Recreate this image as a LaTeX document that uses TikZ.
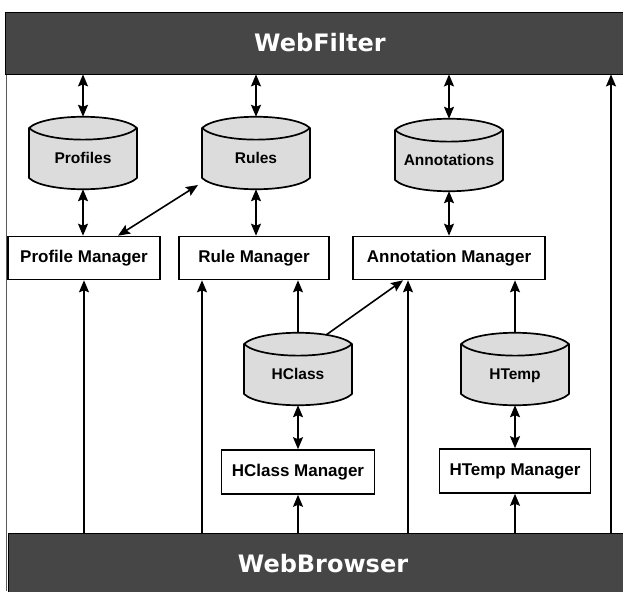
\documentclass[tikz,border=0pt]{standalone}
\usepackage{fontspec}
\setmainfont{Liberation Sans}
\newfontfamily\barfont{DejaVu Sans}
\usetikzlibrary{arrows.meta,calc,backgrounds}

\definecolor{barfill}{HTML}{464646}
\definecolor{dbfill}{HTML}{DCDCDC}

% database drum: lens-shaped lid, straight sides, rounded base
\newcommand\dbdraw[1]{%
  \begin{scope}[shift={(#1.center)}]
    \filldraw[dbline] (-54,-25) .. controls (-38,-40) and (38,-40) .. (54,-25)
      -- (54,25) .. controls (38,40) and (-38,40) .. (-54,25) -- cycle;
    \draw[dbline] (-54,-25) .. controls (-38,-9.5) and (38,-9.5) .. (54,-25);
  \end{scope}}

\begin{document}
\begin{tikzpicture}[x=1pt,y=-1pt,
  bar/.style={draw=black, line width=0.8pt, fill=barfill, text=white,
    font=\barfont\bfseries\fontsize{24}{28}\selectfont,
    minimum width=630pt, minimum height=62pt, inner sep=0pt},
  mgr/.style={draw=black, line width=1.6pt, fill=white,
    font=\bfseries\fontsize{17}{20}\selectfont,
    minimum height=43pt, inner sep=0pt},
  db/.style={inner sep=0pt, minimum width=108pt, text height=46.5pt,
    text depth=25.5pt, font=\bfseries\fontsize{15.5}{18}\selectfont},
  dbline/.style={draw=black, line width=1.7pt, fill=dbfill, line join=round},
  link/.style={line width=1.6pt, -{Stealth[length=12pt,width=10pt,inset=2pt]}},
  both/.style={line width=1.6pt, {Stealth[length=12pt,width=10pt,inset=2pt]}-{Stealth[length=12pt,width=10pt,inset=2pt]}}]

\useasboundingbox (0,0) rectangle (623,591);
\clip (0,0) rectangle (623,591);

% outer frame line on the left
\draw[gray!70!black, line width=0.9pt] (6,74) -- (6,591);

% top and bottom layers
\node[bar] (wf) at (320,43) {WebFilter};
\node[bar] (wb) at (323,564) {WebBrowser};

% data stores
\node[db] (prof)   at (83,153)  {Profiles};
\node[db] (rules)  at (256,153) {Rules};
\node[db] (annot)  at (449,155) {Annotations};
\node[db] (hclass) at (298,369) {HClass};
\node[db] (htemp)  at (515,369) {HTemp};

\begin{scope}[on background layer]
  \fill[white] (0,0) rectangle (623,591);
  \dbdraw{prof}
  \dbdraw{rules}
  \dbdraw{annot}
  \dbdraw{hclass}
  \dbdraw{htemp}
\end{scope}

% managers
\node[mgr, minimum width=152pt] (pm)  at (84,258)  {Profile Manager};
\node[mgr, minimum width=150pt] (rm)  at (254,258) {Rule Manager};
\node[mgr, minimum width=192pt] (am)  at (449,258) {Annotation Manager};
\node[mgr, minimum width=153pt, minimum height=44pt] (hcm) at (298,472) {HClass Manager};
\node[mgr, minimum width=151pt, minimum height=44pt] (htm) at (515,471) {HTemp Manager};

% column positions of the long browser links
\coordinate (colR) at (202,0);
\coordinate (colA) at (408,0);
\coordinate (colF) at (611,0);
\coordinate (pmTop)  at ($(pm.north)+(34,0)$);
\coordinate (ruBase) at ($(rules.center)+(-58,32)$);
\coordinate (hcTop)  at ($(hclass.center)+(28,-34)$);
\coordinate (amIn)   at ($(am.south)+(-46,0)$);

% WebFilter <-> stores
\draw[both] (wf.south -| prof.north)  -- (prof.north);
\draw[both] (wf.south -| rules.north) -- (rules.north);
\draw[both] (wf.south -| annot.north) -- (annot.north);

% stores <-> managers
\draw[both] (prof.south)  -- (prof.south |- pm.north);
\draw[both] (rules.south) -- (rules.south |- rm.north);
\draw[both] (annot.south) -- (annot.south |- am.north);
\draw[both] (pmTop) -- (ruBase);
\draw[both] (hclass.south) -- (hclass.south |- hcm.north);
\draw[both] (htemp.south)  -- (htemp.south |- htm.north);

% stores feeding managers
\draw[link] (hclass.north) -- (hclass.north |- rm.south);
\draw[link] (hcTop) -- (amIn);
\draw[link] (htemp.north) -- (htemp.north |- am.south);

% WebBrowser links
\draw[link] (wb.north -| pm.south) -- (pm.south);
\draw[link] (wb.north -| colR) -- (rm.south -| colR);
\draw[link] (wb.north -| colA) -- (am.south -| colA);
\draw[link] (wb.north -| colF) -- (wf.south -| colF);
\draw[link] (wb.north -| hcm.south) -- (hcm.south);
\draw[link] (wb.north -| htm.south) -- (htm.south);

\end{tikzpicture}
\end{document}
